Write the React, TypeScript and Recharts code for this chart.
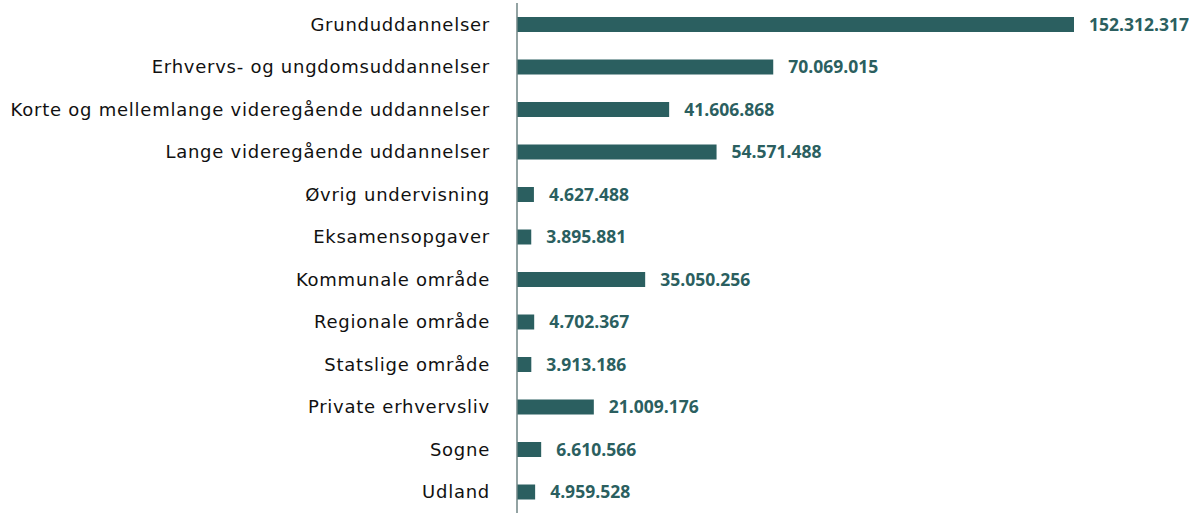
import { Bar, BarChart, LabelList, XAxis, YAxis } from "recharts";

const categories = [
  "Grunduddannelser",
  "Erhvervs- og ungdomsuddannelser",
  "Korte og mellemlange videregående uddannelser",
  "Lange videregående uddannelser",
  "Øvrig undervisning",
  "Eksamensopgaver",
  "Kommunale område",
  "Regionale område",
  "Statslige område",
  "Private erhvervsliv",
  "Sogne",
  "Udland",
];
const values = [
  152312317, 70069015, 41606868, 54571488, 4627488, 3895881, 35050256,
  4702367, 3913186, 21009176, 6610566, 4959528,
];

const data = categories.map((name, i) => ({ name, value: values[i] }));

const fmt = (v: any) => String(v).replace(/\B(?=(\d{3})+(?!\d))/g, ".");

export default function App() {
  return (
    <div style={{ position: "absolute", left: 0, top: 0, background: "#fff" }}>
      <BarChart
        width={1189}
        height={515}
        data={data}
        layout="vertical"
        margin={{ top: 3, right: 115, bottom: 2, left: 0 }}
      >
        <XAxis type="number" hide domain={[0, 152312317]} />
        <YAxis
          type="category"
          dataKey="name"
          width={517}
          tickLine={false}
          tickMargin={21}
          axisLine={{ stroke: "#6f8585", strokeWidth: 1.5 }}
          tick={{
            fill: "#111",
            fontSize: 18,
            fontFamily: "'DejaVu Sans', sans-serif",
            letterSpacing: 0.75,
          }}
          interval={0}
        />
        <Bar dataKey="value" fill="#2b5f60" barSize={15} isAnimationActive={false}>
          <LabelList
            dataKey="value"
            position="right"
            offset={15}
            formatter={fmt}
            style={{
              fill: "#2b5f60",
              fontSize: 17.5,
              fontWeight: 700,
              fontFamily: "'Open Sans', sans-serif",
            }}
          />
        </Bar>
      </BarChart>
    </div>
  );
}
